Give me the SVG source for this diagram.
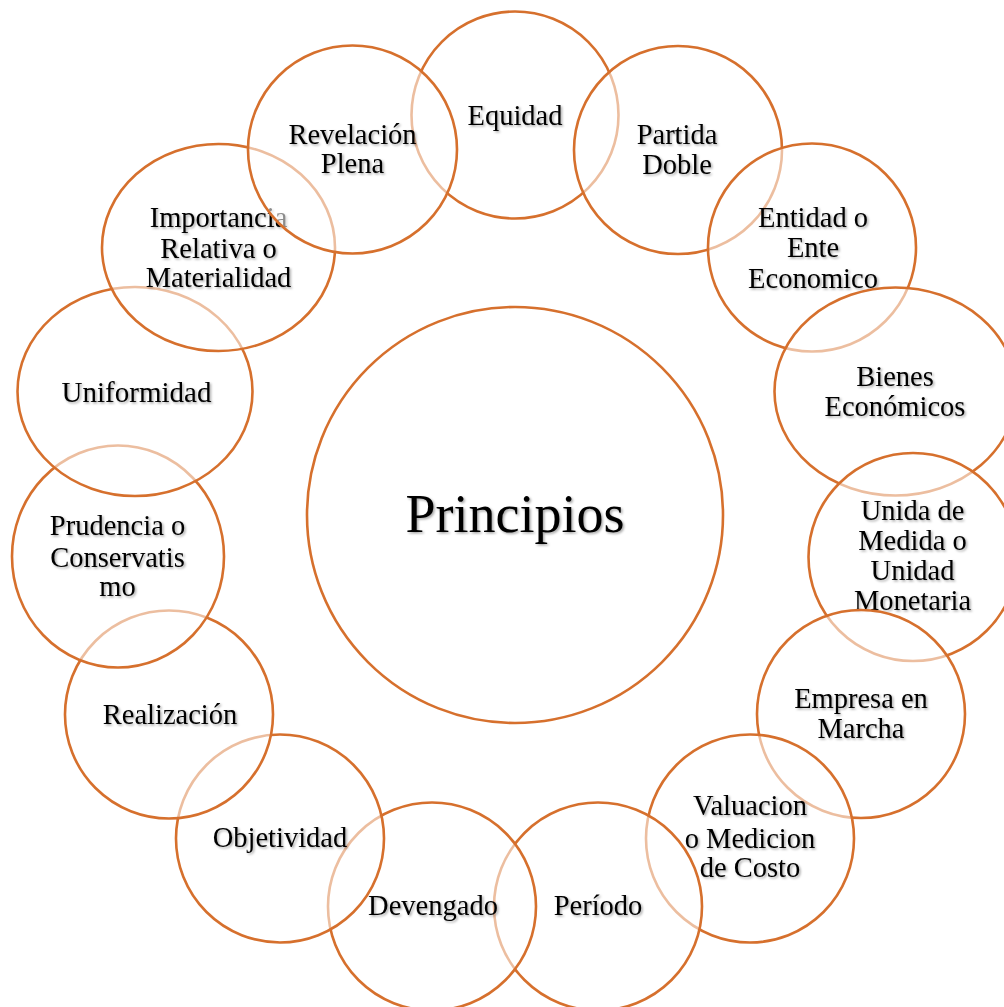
<svg xmlns="http://www.w3.org/2000/svg" width="1004" height="1007" viewBox="0 0 1004 1007">
<defs>
<filter id="sh" x="-10%" y="-20%" width="130%" height="150%">
<feDropShadow dx="1.5" dy="1.5" stdDeviation="1" flood-color="#000" flood-opacity="0.35"/>
</filter>
<style>
.c{fill:#fff;fill-opacity:0.55;stroke:#D6702D;stroke-width:2.6}
.t{font-family:"Liberation Serif","Times New Roman",serif;font-size:28.5px;fill:#000;text-anchor:middle;filter:url(#sh)}
.big{font-size:54px}
</style>
</defs>
<rect width="1004" height="1007" fill="#fff"/>
<g id="connectors"></g>
<g id="center">
<circle class="c" cx="515" cy="515" r="208"/>
<text class="t big" x="515" y="532">Principios</text>
</g>
<g id="n0"><ellipse class="c" cx="515" cy="115" rx="103.5" ry="103.5"/><text class="t" x="515" y="125">Equidad</text></g>
<g id="n1"><ellipse class="c" cx="678" cy="150" rx="104" ry="104"/><text class="t" x="677" y="143.5">Partida</text><text class="t" x="677" y="173.5">Doble</text></g>
<g id="n2"><ellipse class="c" cx="812" cy="247.5" rx="104" ry="104"/><text class="t" x="813" y="226.7">Entidad o</text><text class="t" x="813" y="257.2">Ente</text><text class="t" x="813" y="287.7">Economico</text></g>
<g id="n3"><ellipse class="c" cx="895.5" cy="391.5" rx="121" ry="104"/><text class="t" x="895" y="386">Bienes</text><text class="t" x="895" y="416">Económicos</text></g>
<g id="n4"><ellipse class="c" cx="913" cy="557" rx="104.5" ry="104"/><text class="t" x="912.5" y="520">Unida de</text><text class="t" x="912.5" y="549.5">Medida o</text><text class="t" x="912.5" y="579.5">Unidad</text><text class="t" x="912.5" y="610">Monetaria</text></g>
<g id="n5"><ellipse class="c" cx="861" cy="714" rx="104" ry="104"/><text class="t" x="861" y="708">Empresa en</text><text class="t" x="861" y="738">Marcha</text></g>
<g id="n6"><ellipse class="c" cx="750" cy="838.5" rx="104" ry="104"/><text class="t" x="750" y="815">Valuacion</text><text class="t" x="750" y="847.5">o Medicion</text><text class="t" x="750" y="877">de Costo</text></g>
<g id="n7"><ellipse class="c" cx="598" cy="906.5" rx="104" ry="104"/><text class="t" x="598" y="915">Período</text></g>
<g id="n8"><ellipse class="c" cx="432" cy="906.5" rx="104" ry="104"/><text class="t" x="433" y="915">Devengado</text></g>
<g id="n9"><ellipse class="c" cx="280" cy="838.5" rx="104" ry="104"/><text class="t" x="280" y="846.5">Objetividad</text></g>
<g id="n10"><ellipse class="c" cx="169" cy="714.5" rx="104" ry="104"/><text class="t" x="170" y="724">Realización</text></g>
<g id="n11"><ellipse class="c" cx="118" cy="556.5" rx="106" ry="111"/><text class="t" x="117.5" y="535">Prudencia o</text><text class="t" x="117.5" y="566.5">Conservatis</text><text class="t" x="117.5" y="596">mo</text></g>
<g id="n12"><ellipse class="c" cx="135" cy="391.5" rx="117.5" ry="104.5"/><text class="t" x="136.5" y="401.5" style="font-size:29px">Uniformidad</text></g>
<g id="n13"><ellipse class="c" cx="218.5" cy="247.5" rx="116.5" ry="103.5"/><text class="t" x="218.5" y="226.7">Importancia</text><text class="t" x="218.5" y="257.7">Relativa o</text><text class="t" x="218.5" y="287.2">Materialidad</text></g>
<g id="n14"><ellipse class="c" cx="352.5" cy="149.5" rx="104.5" ry="104"/><text class="t" x="352.5" y="144.3">Revelación</text><text class="t" x="352.5" y="173.3">Plena</text></g>
</svg>
